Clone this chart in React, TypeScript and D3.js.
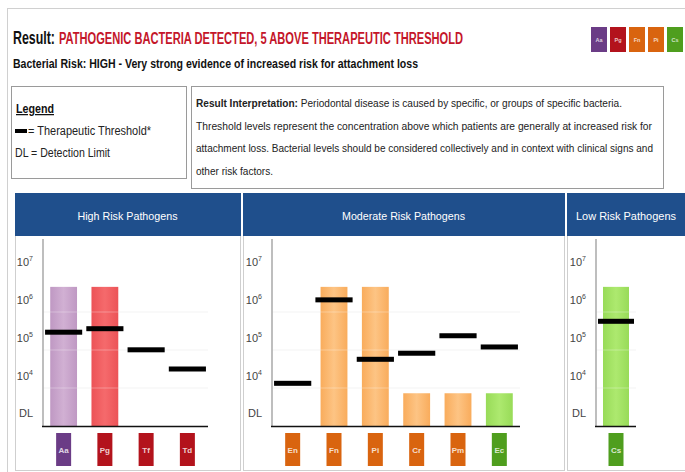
import React, {useEffect, useRef} from 'react';
import * as d3 from 'd3';

// bacterial levels (copies/sample), null = not detected
const highCats = ['Aa', 'Pg', 'Tf', 'Td'];
const highValues = [1.45e6, 1.45e6, null, null];
const highThresholds = [9.3e4, 1.15e5, 3.2e4, 1.0e4];

const modCats = ['En', 'Fn', 'Pi', 'Cr', 'Pm', 'Ec'];
const modValues = [null, 1.45e6, 1.45e6, 2.3e3, 2.3e3, 2.3e3];
const modThresholds = [4.2e3, 6.6e5, 1.8e4, 2.6e4, 7.5e4, 3.8e4];

const lowCats = ['Cs'];
const lowValues = [1.45e6];
const lowThresholds = [1.8e5];

const aboveThreshold = ['Aa', 'Pg', 'Fn', 'Pi', 'Cs'];
const tickValues = [1e3, 1e4, 1e5, 1e6, 1e7];
const tickLabels = ['DL', '4', '5', '6', '7'];

const interpLines = [
    'Periodontal disease is caused by specific, or groups of specific bacteria.',
    'Threshold levels represent the concentration above which patients are generally at increased risk for',
    'attachment loss. Bacterial levels should be considered collectively and in context with clinical signs and',
    'other risk factors.',
];

const FONT = '"Liberation Sans Narrow", "Arial Narrow", "Liberation Sans", Arial, sans-serif';
const BLUE = '#1f4f8c';

const groupOf = {
    Aa: 'purple', Pg: 'red', Tf: 'red', Td: 'red',
    En: 'orange', Fn: 'orange', Pi: 'orange', Cr: 'orange', Pm: 'orange',
    Ec: 'green', Cs: 'green',
};
const badgeColor = {purple: '#6b3c86', red: '#b3131c', orange: '#d9640f', green: '#4f9e1e'};
const barColor = {
    purple: ['#bf98c3', '#d1b0d3'],
    red: ['#ec5357', '#f56a6c'],
    orange: ['#f9ac5c', '#fdc484'],
    green: ['#98db58', '#ade96f'],
};

export default function App() {
    const ref = useRef(null);

    useEffect(() => {
        const svg = d3.select(ref.current);
        svg.selectAll('*').remove();

        const defs = svg.append('defs');
        Object.keys(barColor).forEach(k => {
            const g = defs.append('linearGradient').attr('id', 'grad-' + k)
                .attr('x1', 0).attr('x2', 1).attr('y1', 0).attr('y2', 0);
            g.append('stop').attr('offset', '0%').attr('stop-color', barColor[k][0]);
            g.append('stop').attr('offset', '50%').attr('stop-color', barColor[k][1]);
            g.append('stop').attr('offset', '100%').attr('stop-color', barColor[k][0]);
        });

        // outer card
        svg.append('rect').attr('x', 7.5).attr('y', 8.5).attr('width', 700).attr('height', 500)
            .attr('fill', 'white').attr('stroke', '#d0d0d0');

        // title lines
        svg.append('text').attr('x', 13).attr('y', 44)
            .attr('font-family', FONT).attr('font-weight', 'bold').attr('font-size', 18)
            .attr('textLength', 42).attr('lengthAdjust', 'spacingAndGlyphs')
            .attr('fill', '#111').text('Result:');
        svg.append('text').attr('x', 59).attr('y', 44)
            .attr('font-family', FONT).attr('font-weight', 'bold').attr('font-size', 16)
            .attr('textLength', 404).attr('lengthAdjust', 'spacingAndGlyphs')
            .attr('fill', '#c4162a').text('PATHOGENIC BACTERIA DETECTED, 5 ABOVE THERAPEUTIC THRESHOLD');
        svg.append('text').attr('x', 13).attr('y', 68)
            .attr('font-family', FONT).attr('font-weight', 'bold').attr('font-size', 13.5)
            .attr('textLength', 405).attr('lengthAdjust', 'spacingAndGlyphs')
            .attr('fill', '#111').text('Bacterial Risk: HIGH - Very strong evidence of increased risk for attachment loss');

        // badges top right
        const tb = svg.append('g');
        aboveThreshold.forEach((c, i) => {
            const x = 591 + i * 19;
            tb.append('rect').attr('x', x).attr('y', 27).attr('width', 16).attr('height', 25)
                .attr('fill', badgeColor[groupOf[c]]);
            tb.append('text').attr('x', x + 8).attr('y', 42).attr('text-anchor', 'middle')
                .attr('font-family', FONT).attr('font-size', 5.5).attr('font-weight', 'bold')
                .attr('fill', 'white').attr('fill-opacity', 0.75).text(c);
        });

        // legend box
        svg.append('rect').attr('x', 11.5).attr('y', 86.5).attr('width', 175).attr('height', 92)
            .attr('fill', 'white').attr('stroke', '#9a9a9a');
        svg.append('text').attr('x', 16).attr('y', 113)
            .attr('font-family', FONT).attr('font-weight', 'bold').attr('font-size', 12.5)
            .attr('textLength', 38).attr('lengthAdjust', 'spacingAndGlyphs')
            .attr('text-decoration', 'underline').attr('fill', '#111').text('Legend');
        svg.append('rect').attr('x', 15).attr('y', 129).attr('width', 12).attr('height', 4).attr('fill', '#000');
        svg.append('text').attr('x', 28).attr('y', 135)
            .attr('font-family', FONT).attr('font-size', 12)
            .attr('textLength', 123).attr('lengthAdjust', 'spacingAndGlyphs')
            .attr('fill', '#222').text(' = Therapeutic Threshold*');
        svg.append('text').attr('x', 15).attr('y', 157)
            .attr('font-family', FONT).attr('font-size', 12)
            .attr('textLength', 95).attr('lengthAdjust', 'spacingAndGlyphs')
            .attr('fill', '#222').text('DL = Detection Limit');

        // interpretation box
        svg.append('rect').attr('x', 191.5).attr('y', 86.5).attr('width', 472).attr('height', 102)
            .attr('fill', 'white').attr('stroke', '#9a9a9a');
        const lineEnds = [622, 652, 653, 273];
        interpLines.forEach((l, i) => {
            const t = svg.append('text').attr('x', 196).attr('y', 107 + i * 22.5)
                .attr('font-family', FONT).attr('font-size', i === 2 ? 10.5 : 11).attr('fill', '#222')
                .attr('textLength', lineEnds[i] - 196).attr('lengthAdjust', 'spacingAndGlyphs');
            if (i === 0) {
                t.append('tspan').attr('font-weight', 'bold').text('Result Interpretation: ');
            }
            t.append('tspan').text(l);
        });

        const panels = [
            {title: 'High Risk Pathogens', cats: highCats, values: highValues, thresholds: highThresholds,
                x0: 15, x1: 240, axisX: 43, axisEnd: 208, titleW: 100},
            {title: 'Moderate Risk Pathogens', cats: modCats, values: modValues, thresholds: modThresholds,
                x0: 243, x1: 564, axisX: 272, axisEnd: 520, titleW: 123},
            {title: 'Low Risk Pathogens', cats: lowCats, values: lowValues, thresholds: lowThresholds,
                x0: 567, x1: 686, axisX: 596, axisEnd: 636, titleW: 100},
        ];

        const y = d3.scaleLog().domain([10 ** 2.5, 10 ** 7.5]).range([426, 236]);
        const gridValues = [10 ** 3.5, 10 ** 4.5, 10 ** 5.5];

        panels.forEach(p => {
            const g = svg.append('g');
            g.append('rect').attr('x', p.x0 + 0.5).attr('y', 193.5).attr('width', p.x1 - p.x0).attr('height', 277)
                .attr('fill', 'white').attr('stroke', '#cfcfcf');
            g.append('rect').attr('x', p.x0).attr('y', 193).attr('width', p.x1 - p.x0 + 1).attr('height', 43)
                .attr('fill', BLUE);
            const cx = (p.x0 + Math.min(p.x1, 685)) / 2;
            g.append('text').attr('x', cx - p.titleW / 2).attr('y', 219.5)
                .attr('font-family', FONT).attr('font-size', 11.5)
                .attr('textLength', p.titleW).attr('lengthAdjust', 'spacingAndGlyphs')
                .attr('fill', 'white').text(p.title);

            const x = d3.scaleBand().domain(p.cats).range([p.axisX, p.axisEnd]);
            const bw = x.bandwidth() * 0.65;
            const tw = x.bandwidth() * 0.9;

            // faint grid under bars
            g.selectAll('.grid').data(gridValues).enter().append('line')
                .attr('x1', p.axisX).attr('x2', p.axisEnd)
                .attr('y1', d => y(d)).attr('y2', d => y(d))
                .attr('stroke', '#f1f1f1');

            const rows = p.cats.map((c, i) => ({c, v: p.values[i], t: p.thresholds[i]}));

            g.selectAll('.bar').data(rows.filter(d => d.v != null)).enter().append('rect')
                .attr('x', d => x(d.c) + (x.bandwidth() - bw) / 2)
                .attr('y', d => y(d.v))
                .attr('width', bw)
                .attr('height', d => 426 - y(d.v))
                .attr('fill', d => `url(#grad-${groupOf[d.c]})`);

            // grid shows faintly over the bars
            g.selectAll('.grid2').data(gridValues).enter().append('line')
                .attr('x1', p.axisX).attr('x2', p.axisEnd)
                .attr('y1', d => y(d)).attr('y2', d => y(d))
                .attr('stroke', 'white').attr('stroke-opacity', 0.3);

            g.selectAll('.thr').data(rows).enter().append('rect')
                .attr('x', d => x(d.c) + (x.bandwidth() - tw) / 2)
                .attr('y', d => y(d.t) - 2.5)
                .attr('width', tw)
                .attr('height', 5)
                .attr('fill', '#000');

            // axes
            g.append('line').attr('x1', p.axisX).attr('x2', p.axisX).attr('y1', 239).attr('y2', 426)
                .attr('stroke', '#a8a8a8').attr('stroke-width', 1.5);
            g.append('line').attr('x1', p.axisX - 1).attr('x2', p.axisEnd).attr('y1', 426.5).attr('y2', 426.5)
                .attr('stroke', '#111').attr('stroke-width', 1.5);

            tickValues.forEach((v, i) => {
                const t = g.append('text').attr('x', p.axisX - 10).attr('y', y(v) + (i === 0 ? 10 : 11))
                    .attr('text-anchor', 'end').attr('font-family', FONT).attr('font-size', 11)
                    .attr('fill', '#444');
                if (i === 0) {
                    t.text(tickLabels[i]);
                } else {
                    t.append('tspan').text('10');
                    t.append('tspan').attr('font-size', 7).attr('dy', -5).text(tickLabels[i]);
                }
            });

            // category badges
            p.cats.forEach(c => {
                const bx = x(c) + x.bandwidth() / 2;
                g.append('rect').attr('x', bx - 7.5).attr('y', 433).attr('width', 15).attr('height', 33)
                    .attr('fill', badgeColor[groupOf[c]]);
                g.append('text').attr('x', bx).attr('y', 453).attr('text-anchor', 'middle')
                    .attr('font-family', FONT).attr('font-size', 8).attr('font-weight', 'bold')
                    .attr('fill', 'white').attr('fill-opacity', 0.8).text(c);
            });
        });
    }, []);

    return (
        <svg ref={ref} width={685} height={472}
             style={{position: 'absolute', left: 0, top: 0, display: 'block', background: 'white'}}/>
    );
}
